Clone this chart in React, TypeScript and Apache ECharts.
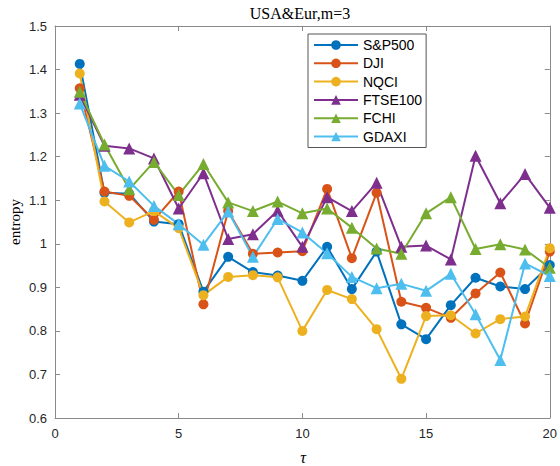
import React, { useEffect, useRef } from "react";
import * as echarts from "echarts";

const taus = [1, 2, 3, 4, 5, 6, 7, 8, 9, 10, 11, 12, 13, 14, 15, 16, 17, 18, 19, 20];
const sp500 = [1.413, 1.117, 1.115, 1.051, 1.045, 0.89, 0.97, 0.935, 0.927, 0.915, 0.993, 0.896, 0.982, 0.815, 0.781, 0.859, 0.922, 0.902, 0.896, 0.951];
const dji = [1.357, 1.12, 1.11, 1.055, 1.12, 0.861, 1.075, 0.977, 0.98, 0.983, 1.126, 0.967, 1.117, 0.867, 0.853, 0.83, 0.886, 0.934, 0.817, 0.982];
const nqci = [1.391, 1.097, 1.049, 1.075, 1.036, 0.882, 0.924, 0.928, 0.923, 0.8, 0.894, 0.873, 0.804, 0.69, 0.834, 0.836, 0.794, 0.827, 0.833, 0.99];
const ftse100 = [1.342, 1.225, 1.219, 1.196, 1.081, 1.162, 1.011, 1.022, 1.076, 0.993, 1.107, 1.075, 1.14, 0.993, 0.996, 0.964, 1.202, 1.093, 1.16, 1.083];
const fchi = [1.349, 1.228, 1.125, 1.188, 1.112, 1.183, 1.095, 1.075, 1.097, 1.07, 1.081, 1.037, 0.989, 0.977, 1.07, 1.107, 0.988, 0.999, 0.987, 0.945];
const gdaxi = [1.322, 1.179, 1.143, 1.087, 1.045, 0.998, 1.074, 0.97, 1.057, 1.026, 0.978, 0.924, 0.898, 0.908, 0.892, 0.931, 0.838, 0.733, 0.955, 0.926];

const seriesNames = ["S&P500", "DJI", "NQCI", "FTSE100", "FCHI", "GDAXI"];
const seriesValues = [sp500, dji, nqci, ftse100, fchi, gdaxi];
const seriesColors = ["#0072BD", "#D95319", "#EDB120", "#7E2F8E", "#77AC30", "#4DBEEE"];
const seriesSymbols = ["circle", "circle", "circle", "triangle", "triangle", "triangle"];

const titleText = "USA&Eur,m=3";
const yLabel = "entropy";
const xLabel = "τ";

const AXIS = "#8a8a8a";
const SANS = "Liberation Sans, Arial, sans-serif";
const SERIF = "Liberation Serif, Times New Roman, serif";

export default function App() {
  const ref = useRef<HTMLDivElement>(null);
  useEffect(() => {
    document.body.style.margin = "0";
    if (!ref.current) return;
    const chart = echarts.init(ref.current, null, { renderer: "svg" });
    const fmt = (v: number) => String(+v.toFixed(1));
    const axisCommon = {
      axisLine: { show: true, onZero: false, lineStyle: { color: AXIS, width: 1 } },
      axisTick: { show: true, inside: true, length: 5, lineStyle: { color: AXIS } },
      splitLine: { show: false },
    };
    chart.setOption({
      animation: false,
      backgroundColor: "#ffffff",
      grid: { left: 55, top: 26, right: 9, bottom: 48, containLabel: false },
      xAxis: [
        {
          type: "value", min: 0, max: 20, interval: 5, position: "bottom",
          ...axisCommon,
          axisLabel: { color: "#262626", fontSize: 13, fontFamily: SANS, margin: 9 },
        },
        {
          type: "value", min: 0, max: 20, interval: 5, position: "top",
          ...axisCommon,
          axisLabel: { show: false },
        },
      ],
      yAxis: [
        {
          type: "value", min: 0.6, max: 1.5, interval: 0.1, position: "left",
          ...axisCommon,
          axisLabel: { color: "#262626", fontSize: 13, fontFamily: SANS, margin: 8, formatter: fmt },
        },
        {
          type: "value", min: 0.6, max: 1.5, interval: 0.1, position: "right",
          ...axisCommon,
          axisLabel: { show: false },
        },
      ],
      legend: {
        orient: "vertical",
        left: 308,
        top: 34,
        padding: [4, 4, 4, 5],
        itemGap: 4.3,
        itemWidth: 44,
        itemHeight: 12,
        backgroundColor: "#ffffff",
        borderColor: "#555555",
        borderWidth: 1,
        borderRadius: 0,
        textStyle: { fontSize: 14, fontFamily: SANS, color: "#000", lineHeight: 14 },
        data: seriesNames,
      },
      graphic: [
        {
          type: "text", x: 300, y: 13,
          style: { text: titleText, font: `16px ${SERIF}`, fill: "#000", textAlign: "center", textVerticalAlign: "middle" },
        },
        {
          type: "text", x: 15, y: 222, rotation: Math.PI / 2,
          style: { text: yLabel, font: `15px ${SERIF}`, fill: "#000", textAlign: "center", textVerticalAlign: "middle" },
        },
        {
          type: "text", x: 303, y: 457,
          style: { text: xLabel, font: `italic 16px ${SERIF}`, fill: "#000", textAlign: "center", textVerticalAlign: "middle" },
        },
      ],
      series: seriesNames.map((name, i) => ({
        name,
        type: "line",
        data: taus.map((t, j) => [t, seriesValues[i][j]]),
        symbol: seriesSymbols[i],
        symbolSize: seriesSymbols[i] === "circle" ? 10 : 12,
        showAllSymbol: true,
        clip: false,
        lineStyle: { color: seriesColors[i], width: 2 },
        itemStyle: { color: seriesColors[i] },
        emphasis: { disabled: true },
      })),
    });
    return () => chart.dispose();
  }, []);
  return <div ref={ref} style={{ width: 560, height: 466 }} />;
}
